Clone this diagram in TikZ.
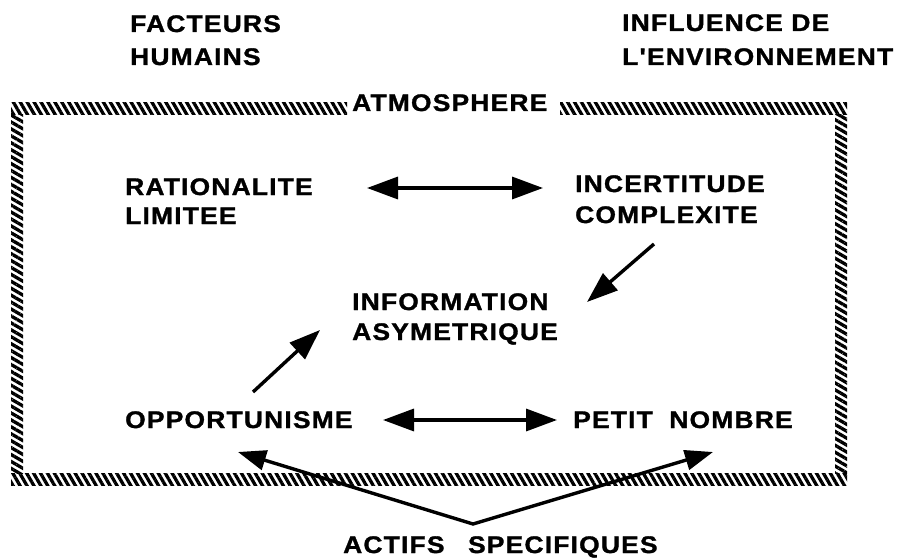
\documentclass[tikz,border=0pt]{standalone}
\usepackage{fontspec}
\newfontfamily\lab{Liberation Sans Bold}[FakeStretch=1.1,LetterSpace=5,FakeBold=1.3]
\usetikzlibrary{arrows.meta,patterns.meta}
\begin{document}
\begin{tikzpicture}[x=1pt,y=-1pt,
  lbl/.style={font=\lab\fontsize{24}{28}\selectfont, anchor=base west, inner sep=0pt},
  link/.style={line width=3.4pt, -{Triangle[length=31pt,width=22pt]}},
  dlink/.style={line width=3.4pt, {Triangle[length=31pt,width=22pt]}-{Triangle[length=31pt,width=22pt]}},
  vlink/.style={line width=3.4pt, line join=miter, {Triangle[length=28pt,width=20pt]}-{Triangle[length=28pt,width=20pt]}},
  hband/.style={pattern={Lines[angle=-60,distance=6pt,line width=3.3pt]}},
  vband/.style={pattern={Lines[angle=-30,distance=6pt,line width=3.3pt]}}]
\useasboundingbox (0,0) rectangle (897,559);

% rope frame (atmosphere)
\fill[hband] (11,103) rectangle (347,115);
\fill[hband] (560,103) rectangle (847,115);
\fill[hband] (11,473) rectangle (847,485);
\fill[vband] (11,115) rectangle (23,473);
\fill[vband] (835,115) rectangle (847,473);

% headings
\node[lbl] (fac1) at (130,32) {FACTEURS};
\node[lbl] (fac2) at (130,65) {HUMAINS};
\node[lbl] (env1) at (622,31) {INFLUENCE DE};
\node[lbl] (env2) at (622,65) {L'ENVIRONNEMENT};
\node[lbl] (atm) at (352,111) {ATMOSPHERE};

% factors
\node[lbl] (rat1) at (125,195) {RATIONALITE};
\node[lbl] (rat2) at (125,224) {LIMITEE};
\node[lbl] (inc1) at (575,192) {INCERTITUDE};
\node[lbl] (inc2) at (575,223) {COMPLEXITE};
\node[lbl] (inf1) at (352,310) {INFORMATION};
\node[lbl] (inf2) at (352,340) {ASYMETRIQUE};
\node[lbl] (opp) at (125,428) {OPPORTUNISME};
\node[lbl] (pet) at (573,428) {PETIT\hspace{8pt} NOMBRE};
\node[lbl] (act) at (343,553) {ACTIFS\hspace{15pt} SPECIFIQUES};

% connectors
\coordinate (ra) at (367,188);
\coordinate (ia) at (543,188);
\coordinate (oa) at (383,420);
\coordinate (pa) at (557,420);
\coordinate (ic) at (654,244);
\coordinate (it) at (587,302);
\coordinate (oc) at (253,392);
\coordinate (ot) at (320,330);
\coordinate (apex) at (473,524);
\coordinate (to) at (238,452);
\coordinate (tp) at (713,452);

\draw[dlink] (ra) -- (ia);
\draw[dlink] (oa) -- (pa);
\draw[link] (ic) -- (it);
\draw[link] (oc) -- (ot);
\draw[vlink] (to) -- (apex) -- (tp);
\end{tikzpicture}
\end{document}
